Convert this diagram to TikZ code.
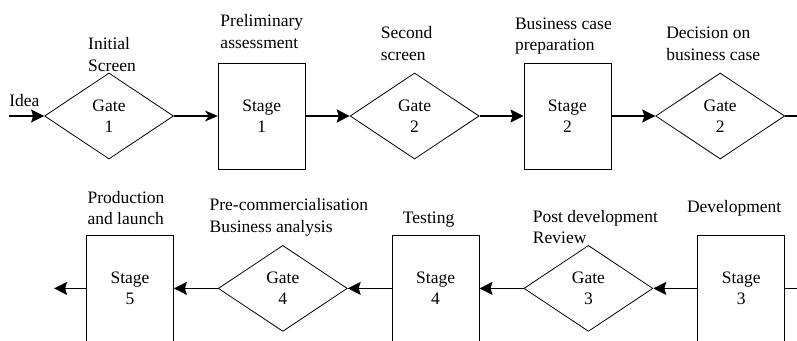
\documentclass[tikz,border=0pt]{standalone}
\usepackage{fontspec}
\setmainfont{Liberation Serif}
\usetikzlibrary{positioning,arrows.meta,shapes.geometric}

\begin{document}
\begin{tikzpicture}[
	x=1pt, y=-1pt,
	>={Stealth[length=13pt,width=13pt,inset=2pt]},
	node distance=44pt,
	font=\fontsize{17.5}{21.5}\selectfont,
	gate/.style={
		diamond,
		draw,
		line width=0.8pt,
		align=center,
		inner sep=0pt,
		minimum width=129pt,
		minimum height=86pt
	},
	stagebox/.style={
		rectangle,
		draw,
		line width=0.8pt,
		align=center,
		inner sep=0pt,
		minimum width=87pt,
		minimum height=106pt
	},
	lbl/.style={align=left, inner sep=0pt},
	flow/.style={->, line width=1.2pt}
	]
	\clip (0,0) rectangle (797,340);
	
	% top row
	\node[gate] (g1) at (109,116) {Gate\\1};
	\node[stagebox] (s1) [right=of g1] {Stage\\1};
	\node[gate] (g2) [right=of s1] {Gate\\2};
	\node[stagebox] (s2) [right=of g2] {Stage\\2};
	\node[gate] (gdec) [right=of s2] {Gate\\2};
	\coordinate[left=35pt of g1.west] (ideain);
	\coordinate[right=15pt of gdec.east] (outR);
	
	% bottom row
	\node[stagebox] (s3) [below=119pt of gdec.east, anchor=north east] {Stage\\3};
	\node[gate] (g3) [left=of s3] {Gate\\3};
	\node[stagebox] (s4) [left=of g3] {Stage\\4};
	\node[gate] (g4) [left=of s4] {Gate\\4};
	\node[stagebox] (s5) [left=of g4] {Stage\\5};
	\coordinate[left=32pt of s5.west] (outL);
	\coordinate[right=15pt of s3.east] (inR);
	
	% labels
	\node[lbl] (idealbl) [above right=9pt and 0pt of ideain] {Idea};
	\node[lbl] (g1lbl) [above=1pt of g1, xshift=3pt] {Initial\\Screen};
	\node[lbl] (s1lbl) [above=14pt of s1] {Preliminary\\assessment};
	\node[lbl] (g2lbl) [above=12pt of g2, xshift=-8pt] {Second\\screen};
	\node[lbl] (s2lbl) [above=8pt of s2, xshift=-4pt] {Business case\\preparation};
	\node[lbl] (gdeclbl) [above=12pt of gdec, xshift=-7pt] {Decision on\\business case};
	\node[lbl] (s3lbl) [above=19pt of s3, xshift=-7pt] {Development};
	\node[lbl] (g3lbl) [above=1pt of g3, xshift=7pt] {Post development\\Review};
	\node[lbl] (s4lbl) [above=8pt of s4, xshift=-7pt] {Testing};
	\node[lbl] (g4lbl) [above=9pt of g4, xshift=6pt] {Pre-commercialisation\\Business analysis};
	\node[lbl] (s5lbl) [above=10pt of s5, xshift=-4pt] {Production\\and launch};
	
	% connectors
	\draw[flow] (ideain) -- (g1);
	\draw[flow, >={Stealth[length=13pt,width=11pt,inset=4pt]}] (g1) -- (s1);
	\draw[flow] (s1) -- (g2);
	\draw[flow] (g2) -- (s2);
	\draw[flow] (s2) -- (gdec);
	\draw[line width=1.2pt] (gdec) -- (outR);
	\draw[line width=1.2pt] (inR) -- (s3);
	\draw[flow] (s3) -- (g3);
	\draw[flow] (g3) -- (s4);
	\draw[flow] (s4) -- (g4);
	\draw[flow] (g4) -- (s5);
	\draw[flow] (s5) -- (outL);
	
\end{tikzpicture}
\end{document}
